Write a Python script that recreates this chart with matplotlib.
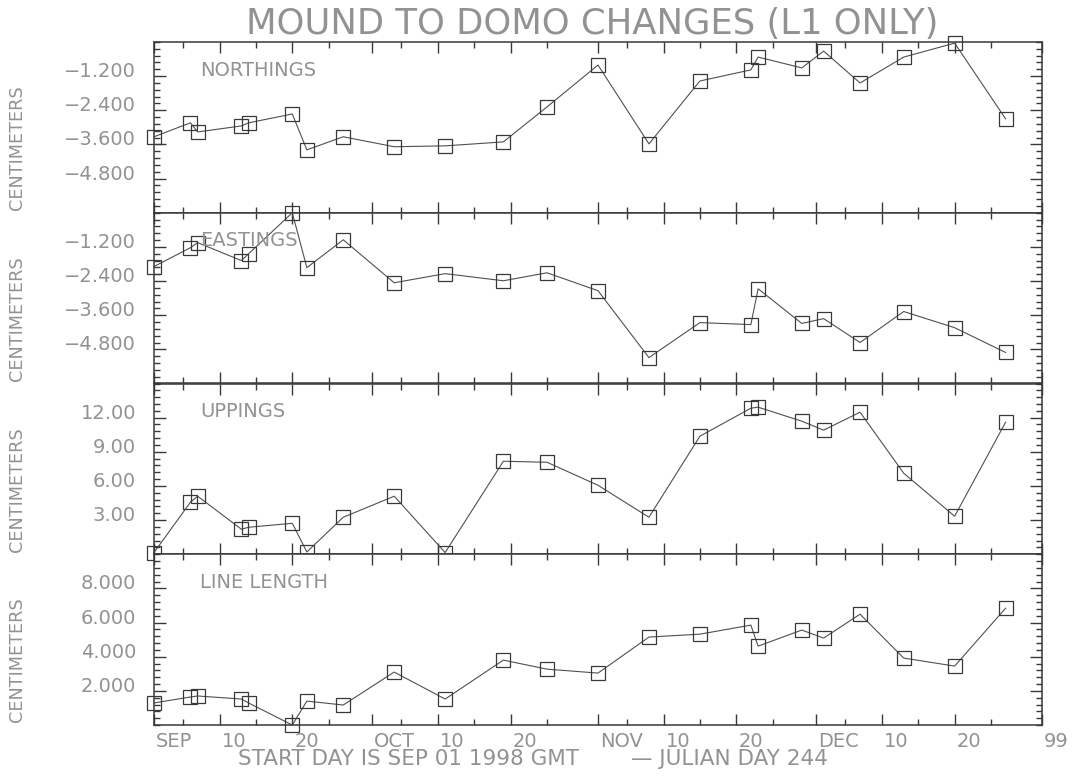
import matplotlib
matplotlib.use("Agg")
from matplotlib import pyplot as plt
from matplotlib.ticker import FixedLocator, MultipleLocator, FixedFormatter
from matplotlib.transforms import ScaledTranslation

# day of year 1998 (244 = SEP 01)
days = [244, 249, 250, 256, 257, 263, 265, 270, 277, 284, 292, 298,
        305, 312, 319, 326, 327, 333, 336, 341, 347, 354, 361]

northings = [-3.33, -2.84, -3.16, -2.95, -2.84, -2.53, -3.79, -3.33, -3.68, -3.65, -3.51, -2.28,
             -0.81, -3.58, -1.37, -0.98, -0.53, -0.91, -0.32, -1.44, -0.53, -0.04, -2.70]
eastings = [-1.89, -1.23, -1.05, -1.68, -1.44, 0.00, -1.93, -0.95, -2.46, -2.14, -2.39, -2.11,
            -2.74, -5.09, -3.86, -3.93, -2.67, -3.89, -3.72, -4.56, -3.47, -4.04, -4.91]
uppings = [0.15, 4.57, 5.10, 2.20, 2.37, 2.72, 0.20, 3.25, 5.10, 0.15, 8.17, 8.08,
           6.06, 3.25, 10.37, 12.83, 12.92, 11.69, 10.90, 12.48, 7.12, 3.34, 11.60]
line_length = [1.29, 1.64, 1.70, 1.52, 1.29, 0.00, 1.40, 1.17, 3.10, 1.52, 3.80, 3.27,
               3.04, 5.15, 5.32, 5.85, 4.62, 5.56, 5.09, 6.49, 3.92, 3.45, 6.84]

panel_names = ["NORTHINGS", "EASTINGS", "UPPINGS", "LINE LENGTH"]
y_limits = [(-6.0, 0.0), (-6.0, 0.0), (0.0, 15.0), (0.0, 10.0)]
y_major = [[-1.2, -2.4, -3.6, -4.8], [-1.2, -2.4, -3.6, -4.8], [3, 6, 9, 12], [2, 4, 6, 8]]
y_minor_step = [0.24, 0.24, 0.6, 0.4]
y_formats = ["{:.3f}", "{:.3f}", "{:.2f}", "{:.3f}"]

month_ticks = [244, 253, 263, 274, 283, 293, 305, 314, 324, 335, 344, 354, 366]
month_labels = ["SEP", "10", "20", "OCT", "10", "20", "NOV", "10", "20", "DEC", "10", "20", "99"]
minor_days = [248, 258, 268, 278, 288, 298, 309, 319, 329, 339, 349, 359]

plt.rcParams['font.family'] = ['DejaVu Sans']

TEXT = "#929292"
INK = "#383838"

fig = plt.figure(figsize=(10.76, 7.77), dpi=100)
W, H = 1076.0, 777.0
left, right = 154, 1042
edges = [42, 212.75, 383.5, 554.25, 725]

series = [northings, eastings, uppings, line_length]
up_shift = ScaledTranslation(0, 0.065, fig.dpi_scale_trans)
right_shift = ScaledTranslation(0.02, 0, fig.dpi_scale_trans)

for i in range(4):
    top, bot = edges[i], edges[i + 1]
    ax = fig.add_axes([left / W, 1 - bot / H, (right - left) / W, (bot - top) / H])
    ax.plot(days, series[i], color="#505050", linewidth=0.8, marker="s", markersize=9.5,
            markerfacecolor="none", markeredgecolor=INK, markeredgewidth=0.9, clip_on=False)
    ax.set_xlim(244, 366)
    ax.set_ylim(*y_limits[i])

    ax.xaxis.set_major_locator(FixedLocator(month_ticks))
    ax.xaxis.set_minor_locator(FixedLocator(minor_days))
    ax.yaxis.set_major_locator(FixedLocator(y_major[i]))
    ax.yaxis.set_minor_locator(MultipleLocator(y_minor_step[i]))
    ax.yaxis.set_major_formatter(FixedFormatter(
        [y_formats[i].format(v).replace("-", "\u2212") for v in y_major[i]]))

    ax.tick_params(which="both", direction="in", top=True, right=True, colors=INK,
                   labelcolor=TEXT, labelsize=14)
    ax.tick_params(which="major", axis="x", length=8, width=1.0, pad=5)
    ax.tick_params(which="minor", axis="x", length=4.5, width=1.0)
    ax.tick_params(which="major", axis="y", length=8.5, width=1.0, pad=13)
    ax.tick_params(which="minor", axis="y", length=4.5, width=1.0)
    for lbl in ax.get_yticklabels():
        lbl.set_transform(lbl.get_transform() + up_shift)

    if i == 3:
        ax.xaxis.set_major_formatter(FixedFormatter(month_labels))
        for lbl in ax.get_xticklabels():
            lbl.set_horizontalalignment("left")
            lbl.set_transform(lbl.get_transform() + right_shift)
    else:
        ax.set_xticklabels([])

    for sp in ax.spines.values():
        sp.set_color(INK)
        sp.set_linewidth(1.1)

    ax.text(0.052, 0.836, panel_names[i], transform=ax.transAxes, fontsize=14,
            color=TEXT, va="center", ha="left")
    ax.set_ylabel("CENTIMETERS", fontsize=12.7, color=TEXT)
    ax.yaxis.set_label_coords(-0.144, 0.38)

fig.text(592 / W, 1 - 24 / H, "MOUND TO DOMO CHANGES (L1 ONLY)", fontsize=25.5,
         color=TEXT, ha="center", va="center")
fig.text(238 / W, 1 - 759 / H, "START DAY IS SEP 01 1998 GMT",
         fontsize=15.5, color=TEXT, ha="left", va="center")
fig.text(631 / W, 1 - 759 / H, "\u2014 JULIAN DAY 244",
         fontsize=15.5, color=TEXT, ha="left", va="center")

fig.savefig("out.png", dpi=100)
